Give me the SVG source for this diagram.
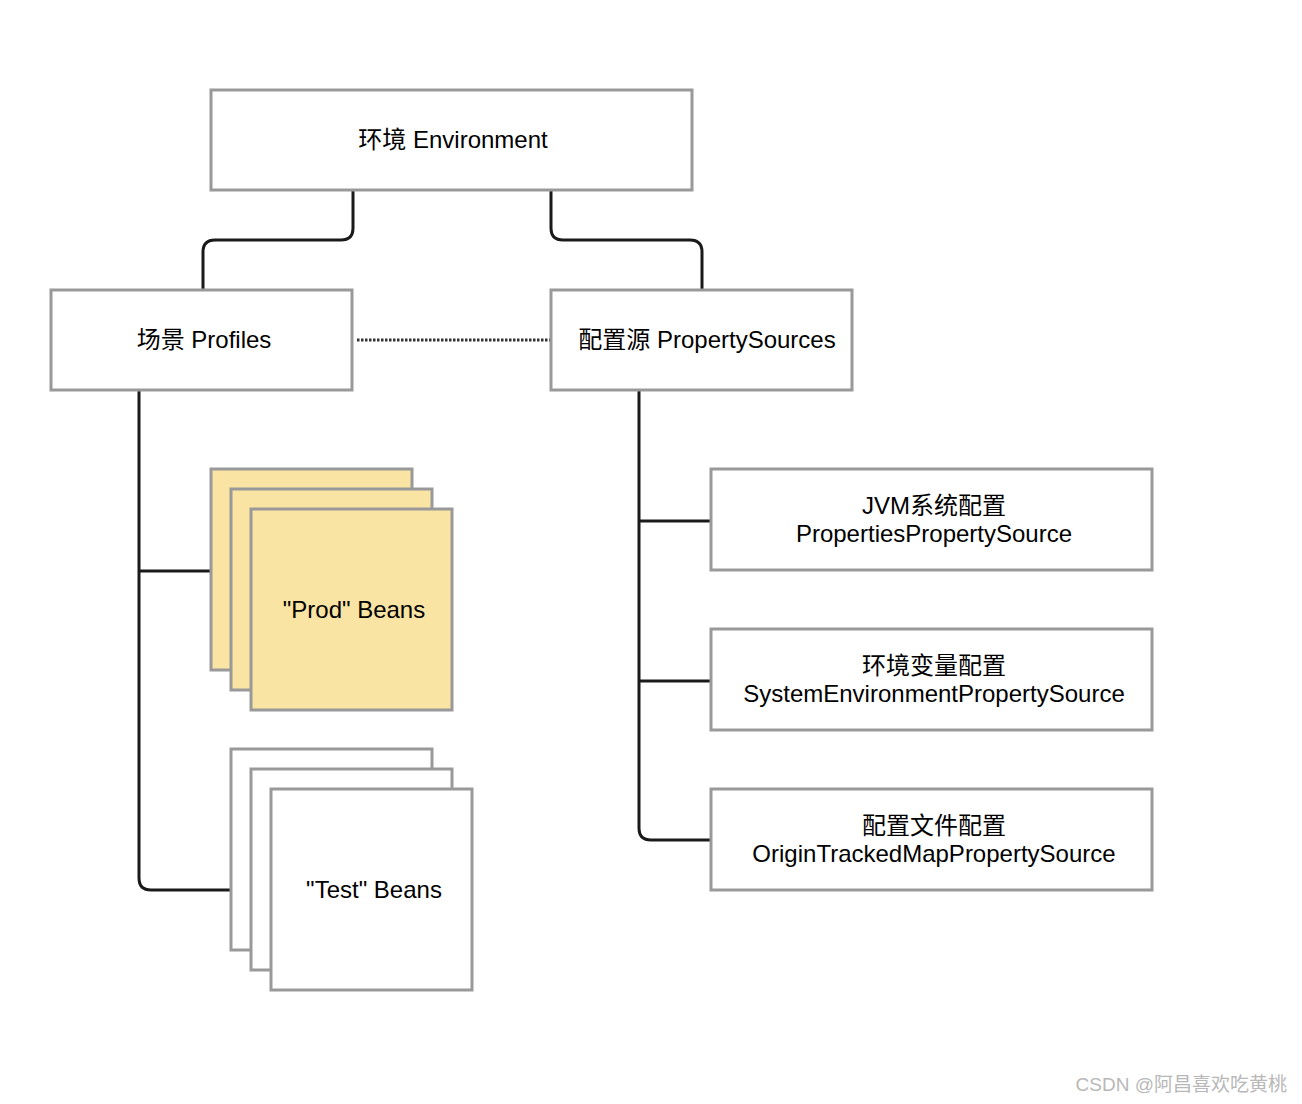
<svg xmlns="http://www.w3.org/2000/svg" width="1302" height="1104" viewBox="0 0 1302 1104">
<style>
.box{fill:#ffffff;stroke:#999999;stroke-width:3}
.prod{fill:#F9E4A3;stroke:#999999;stroke-width:3}
.conn{fill:none;stroke:#1a1a1a;stroke-width:3}
.dot{fill:none;stroke:#333333;stroke-width:3;stroke-dasharray:2.5 1.5}
text{font-family:"Liberation Sans","Noto Sans CJK SC",sans-serif;font-size:24px;fill:#000;text-anchor:middle}
.wm{font-size:19px;fill:#b8b8b8;text-anchor:end}
</style>
<rect width="1302" height="1104" fill="#ffffff"/>
<g id="connectors">
<path class="conn" d="M353,190 V228 Q353,240 341,240 H215 Q203,240 203,252 V290"/>
<path class="conn" d="M551,190 V228 Q551,240 563,240 H690 Q702,240 702,252 V290"/>
<path class="dot" d="M357,340 H551"/>
<path class="conn" d="M139,390 V878 Q139,890 151,890 H231"/>
<path class="conn" d="M139,571 H211"/>
<path class="conn" d="M639,390 V828 Q639,840 651,840 H711"/>
<path class="conn" d="M639,521 H711"/>
<path class="conn" d="M639,681 H711"/>
</g>
<g id="environment">
<rect class="box" x="211" y="90" width="481" height="100"/>
<text x="453" y="148">环境 Environment</text>
</g>
<g id="profiles">
<rect class="box" x="51" y="290" width="301" height="100"/>
<text x="204" y="348">场景 Profiles</text>
</g>
<g id="propertysources">
<rect class="box" x="551" y="290" width="301" height="100"/>
<text x="707" y="348">配置源 PropertySources</text>
</g>
<g id="prod-beans">
<rect class="prod" x="211" y="469" width="201" height="201"/>
<rect class="prod" x="231" y="489" width="201" height="201"/>
<rect class="prod" x="251" y="509" width="201" height="201"/>
<text x="354" y="618">"Prod" Beans</text>
</g>
<g id="test-beans">
<rect class="box" x="231" y="749" width="201" height="201"/>
<rect class="box" x="251" y="769" width="201" height="201"/>
<rect class="box" x="271" y="789" width="201" height="201"/>
<text x="374" y="898">"Test" Beans</text>
</g>
<g id="jvm">
<rect class="box" x="711" y="469" width="441" height="101"/>
<text x="934" y="514">JVM系统配置</text>
<text x="934" y="542">PropertiesPropertySource</text>
</g>
<g id="sysenv">
<rect class="box" x="711" y="629" width="441" height="101"/>
<text x="934" y="674">环境变量配置</text>
<text x="934" y="702">SystemEnvironmentPropertySource</text>
</g>
<g id="origin">
<rect class="box" x="711" y="789" width="441" height="101"/>
<text x="934" y="834">配置文件配置</text>
<text x="934" y="862">OriginTrackedMapPropertySource</text>
</g>
<text class="wm" x="1287" y="1091">CSDN @阿昌喜欢吃黄桃</text>
</svg>
